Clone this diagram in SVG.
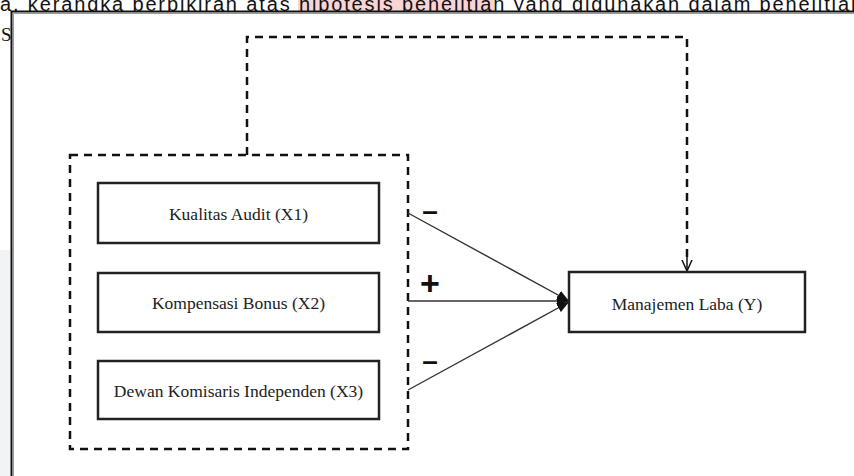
<svg xmlns="http://www.w3.org/2000/svg" width="854" height="476" viewBox="0 0 854 476">
<style>
.bg{fill:#ffffff}
.box{fill:#ffffff;stroke:#222222;stroke-width:2.5}
.lbl{font-family:"Liberation Serif","Times New Roman",serif;font-size:17.5px;fill:#222222;text-anchor:middle}
.dh{fill:none;stroke:#111111;stroke-width:2.5;stroke-dasharray:8 6}
.conn{fill:none;stroke:#333333;stroke-width:1.4}
.sign{font-family:"Liberation Sans",Arial,sans-serif;font-weight:bold;fill:#111111;text-anchor:middle}
.top{font-family:"Liberation Sans",Arial,sans-serif;font-size:20px;fill:#111111}
</style>
<defs>
<marker id="tri" viewBox="0 0 12 10" refX="12" refY="5" markerWidth="12" markerHeight="10" markerUnits="userSpaceOnUse" orient="auto">
<path d="M0,0 L12,5 L0,10 Z" fill="#111111"/>
</marker>
<marker id="vee" viewBox="0 0 12 12" refX="11" refY="6" markerWidth="12" markerHeight="12" markerUnits="userSpaceOnUse" orient="auto">
<path d="M0,1 L11,6 L0,11" fill="none" stroke="#111111" stroke-width="1.5"/>
</marker>
</defs>
<rect x="0" y="0" width="854" height="476" fill="#ffffff"/>
<rect x="0" y="250" width="10" height="226" fill="#f2f3f5"/>
<rect x="298" y="0" width="196" height="11" fill="#f9d4d4"/>
<text class="top" x="0" y="10.5" textLength="862" lengthAdjust="spacing">a, kerangka berpikiran atas hipotesis penelitian yang digunakan dalam penelitian</text>
<text x="1" y="41" font-family="'Liberation Serif','Times New Roman',serif" font-size="19" fill="#111111">S</text>
<rect x="12" y="12" width="842" height="464" fill="#ffffff"/>
<path d="M11.5,476 V11.5 H854" fill="none" stroke="#111111" stroke-width="2"/>
<path d="M13.5,476 V13.5 H854" fill="none" stroke="#9a9a9a" stroke-width="1"/>

<g id="group-x">
<rect x="70" y="155" width="338" height="294" class="dh"/>
</g>

<g id="connectors">
<path class="dh" d="M247,155 V37 H687 V258"/>
<path d="M687,250 V271" fill="none" stroke="#111111" stroke-width="1.5" marker-end="url(#vee)"/>
<path class="conn" d="M408,213 L569,301" marker-end="url(#tri)"/>
<path class="conn" d="M408,301 L569,301" marker-end="url(#tri)"/>
<path class="conn" d="M408,390 L569,302" marker-end="url(#tri)"/>
<text class="sign" x="430" y="220" font-size="28">–</text>
<text class="sign" x="430" y="295" font-size="34">+</text>
<text class="sign" x="430" y="370" font-size="28">–</text>
</g>

<g id="x1">
<rect x="98" y="183" width="281" height="60" class="box"/>
<text class="lbl" x="238.5" y="220">Kualitas Audit (X1)</text>
</g>
<g id="x2">
<rect x="98" y="273" width="281" height="59" class="box"/>
<text class="lbl" x="238.5" y="309">Kompensasi Bonus (X2)</text>
</g>
<g id="x3">
<rect x="98" y="361" width="281" height="58" class="box"/>
<text class="lbl" x="238.5" y="397">Dewan Komisaris Independen (X3)</text>
</g>
<g id="y">
<rect x="569" y="272" width="236" height="60" class="box"/>
<text class="lbl" x="687" y="310">Manajemen Laba (Y)</text>
</g>
</svg>
